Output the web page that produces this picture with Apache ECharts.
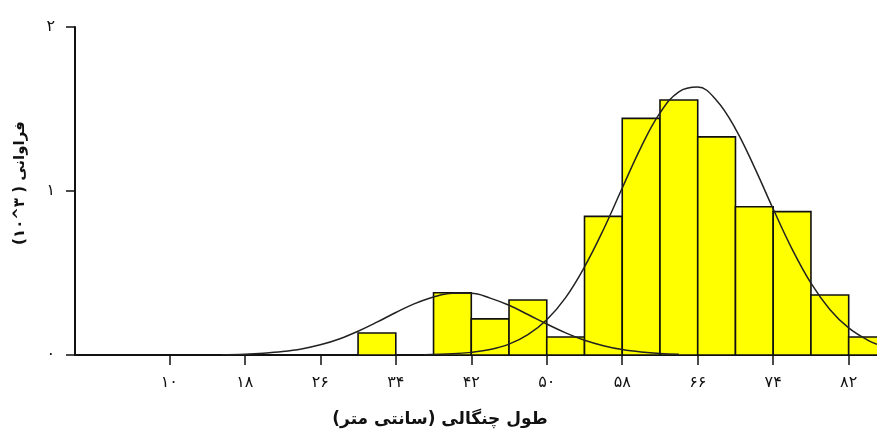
<!DOCTYPE html>
<html><head><meta charset="utf-8">
<script src="https://cdn.jsdelivr.net/npm/echarts@6/dist/echarts.min.js"></script>
<style>html,body{margin:0;padding:0;background:#fff}#c{width:877px;height:443px}</style>
</head><body><div id="c" dir="rtl"></div>
<script>
const binStart = [30, 38, 42, 46, 50, 54, 58, 62, 66, 70, 74, 78, 82];
const binEnd = [34, 42, 46, 50, 54, 58, 62, 66, 70, 74, 78, 82, 86];
const binHeight = [0.134, 0.38, 0.22, 0.335, 0.11, 0.845, 1.443, 1.555, 1.33, 0.904, 0.874, 0.366, 0.11];
const curve1X = [15.5, 18, 20, 22, 24, 26, 28, 30, 32, 34, 36, 38, 40, 42, 44, 46, 48, 50, 52, 54, 56, 58, 60, 62, 64];
const curve1Y = [0.002, 0.005, 0.011, 0.021, 0.037, 0.062, 0.098, 0.145, 0.2, 0.259, 0.313, 0.354, 0.376, 0.376, 0.347, 0.303, 0.247, 0.189, 0.135, 0.09, 0.057, 0.033, 0.018, 0.009, 0.005];
const curve2X = [37, 40, 42, 44, 46, 48, 50, 52, 54, 56, 58, 60, 62, 64, 66, 68, 70, 72, 74, 76, 78, 80, 82, 84, 85];
const curve2Y = [0.002, 0.007, 0.016, 0.033, 0.066, 0.124, 0.215, 0.35, 0.537, 0.764, 1.018, 1.268, 1.476, 1.605, 1.634, 1.552, 1.379, 1.146, 0.89, 0.646, 0.438, 0.278, 0.165, 0.091, 0.066];
const xTickValues = [10, 18, 26, 34, 42, 50, 58, 66, 74, 82];
const xTickLabels = ['۱۰', '۱۸', '۲۶', '۳۴', '۴۲', '۵۰', '۵۸', '۶۶', '۷۴', '۸۲'];
const yTickValues = [0, 1, 2];
const yTickLabels = ['۰', '۱', '۲'];
const xTitle = 'طول چنگالی (سانتی متر)';
const yTitle = 'فراوانی ( \u202A۱۰^۳\u202C)';

const bins = binStart.map((s, i) => [s, binEnd[i], binHeight[i]]);
const c1 = curve1X.map((x, i) => [x, curve1Y[i]]);
const c2 = curve2X.map((x, i) => [x, curve2Y[i]]);
const FONT = "'DejaVu Sans', sans-serif";

const chart = echarts.init(document.getElementById('c'), null, {renderer: 'canvas'});
chart.setOption({
  animation: false,
  backgroundColor: '#fff',
  grid: {left: 75, right: 0, top: 27, bottom: 88, containLabel: false, outerBoundsMode: 'none'},
  xAxis: {
    type: 'value', min: 0, max: 85,
    axisLine: {show: true, onZero: false, lineStyle: {color: '#111', width: 2}},
    axisTick: {show: true, customValues: xTickValues, length: 10, lineStyle: {color: '#111', width: 1.5}},
    axisLabel: {show: true, customValues: xTickValues, margin: 20, color: '#111', fontSize: 16, fontFamily: FONT,
      formatter: v => xTickLabels[xTickValues.indexOf(v)] || ''},
    splitLine: {show: false},
    name: xTitle, nameLocation: 'middle', nameGap: 56,
    nameTextStyle: {color: '#111', fontSize: 17, fontWeight: 'bold', fontFamily: FONT, padding: [0, 72, 0, 0]}
  },
  yAxis: {
    type: 'value', min: 0, max: 2, interval: 1,
    axisLine: {show: true, lineStyle: {color: '#111', width: 2}},
    axisTick: {show: true, length: 9, lineStyle: {color: '#111', width: 1.5}},
    axisLabel: {show: true, margin: 20, color: '#111', fontSize: 16, fontFamily: FONT,
      formatter: v => yTickLabels[yTickValues.indexOf(v)] || ''},
    splitLine: {show: false},
    name: yTitle, nameLocation: 'middle', nameGap: 47,
    nameTextStyle: {color: '#111', fontSize: 15, fontWeight: 'bold', fontFamily: FONT, padding: [0, 0, 0, 16]}
  },
  series: [
    {
      type: 'custom', data: bins, encode: {x: [0, 1], y: 2}, z: 2,
      renderItem: (params, api) => {
        const p0 = api.coord([api.value(0), api.value(2)]);
        const p1 = api.coord([api.value(1), 0]);
        return {type: 'rect', shape: {x: p0[0], y: p0[1], width: p1[0] - p0[0], height: p1[1] - p0[1]},
          style: {fill: '#ffff00', stroke: '#111', lineWidth: 1.6}};
      }
    },
    {type: 'line', data: c1, smooth: 0.4, symbol: 'none', z: 3, lineStyle: {color: '#222', width: 1.5}},
    {type: 'line', data: c2, smooth: 0.4, symbol: 'none', z: 3, lineStyle: {color: '#222', width: 1.5}}
  ]
});
</script></body></html>
